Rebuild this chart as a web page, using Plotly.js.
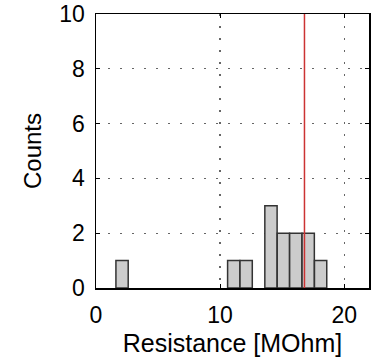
<!DOCTYPE html>
<html>
<head>
<meta charset="utf-8">
<script src="https://cdn.plot.ly/plotly-3.0.1.min.js"></script>
<style>html,body{margin:0;padding:0;background:#fff;}#chart{width:377px;height:362px;}</style>
</head>
<body>
<div id="chart"></div>
<script>
// Histogram bin centres (MOhm) and counts
var binCenters = [2.1, 11.1, 12.1, 14.1, 15.1, 16.1, 17.1, 18.1];
var binCounts = [1, 1, 1, 3, 2, 2, 2, 1];
var binWidth = 0.99;
// Reference (red) line position
var markerValue = [16.8];
var xTicks = [0, 10, 20];
var yTicks = [0, 2, 4, 6, 8, 10];

var font = 'Liberation Sans, Arial, Helvetica, sans-serif';

var trace = {
  type: 'bar',
  x: binCenters,
  y: binCounts,
  width: binCenters.map(function(){return binWidth;}),
  marker: {color: '#cccccc', line: {color: '#333333', width: 1.5}},
  hoverinfo: 'skip'
};

var axisCommon = {
  showline: true, linecolor: '#000', linewidth: 1.5, mirror: 'ticks',
  ticks: 'inside', ticklen: 4, tickcolor: '#000', tickwidth: 1,
  showgrid: true, gridcolor: '#666', griddash: '1.5px,10.5px', gridwidth: 1.2,
  zeroline: false,
  ticklabeloverflow: 'allow',
  tickfont: {family: font, size: 23, color: '#000'}
};

var layout = {
  width: 377, height: 362,
  margin: {l: 96, r: 8, t: 14, b: 74},
  paper_bgcolor: '#fff', plot_bgcolor: '#fff',
  showlegend: false,
  bargap: 0,
  xaxis: Object.assign({}, axisCommon, {
    range: [0, 22], tickmode: 'array', tickvals: xTicks,
    ticklabelstandoff: 6,
    title: {text: 'Resistance [MOhm]', font: {family: font, size: 25, color: '#000'}, standoff: 7}
  }),
  yaxis: Object.assign({}, axisCommon, {
    range: [0, 10.002], tickmode: 'array', tickvals: yTicks,
    ticklabelstandoff: 5,
    title: {text: 'Counts', font: {family: font, size: 24, color: '#000'}, standoff: 11}
  }),
  shapes: markerValue.map(function(v){
    return {type: 'line', xref: 'x', yref: 'paper', x0: v, x1: v, y0: 0, y1: 1,
            line: {color: '#cc3333', width: 1.5}};
  })
};

Plotly.newPlot('chart', [trace], layout, {staticPlot: true, displayModeBar: false});
</script>
</body>
</html>
